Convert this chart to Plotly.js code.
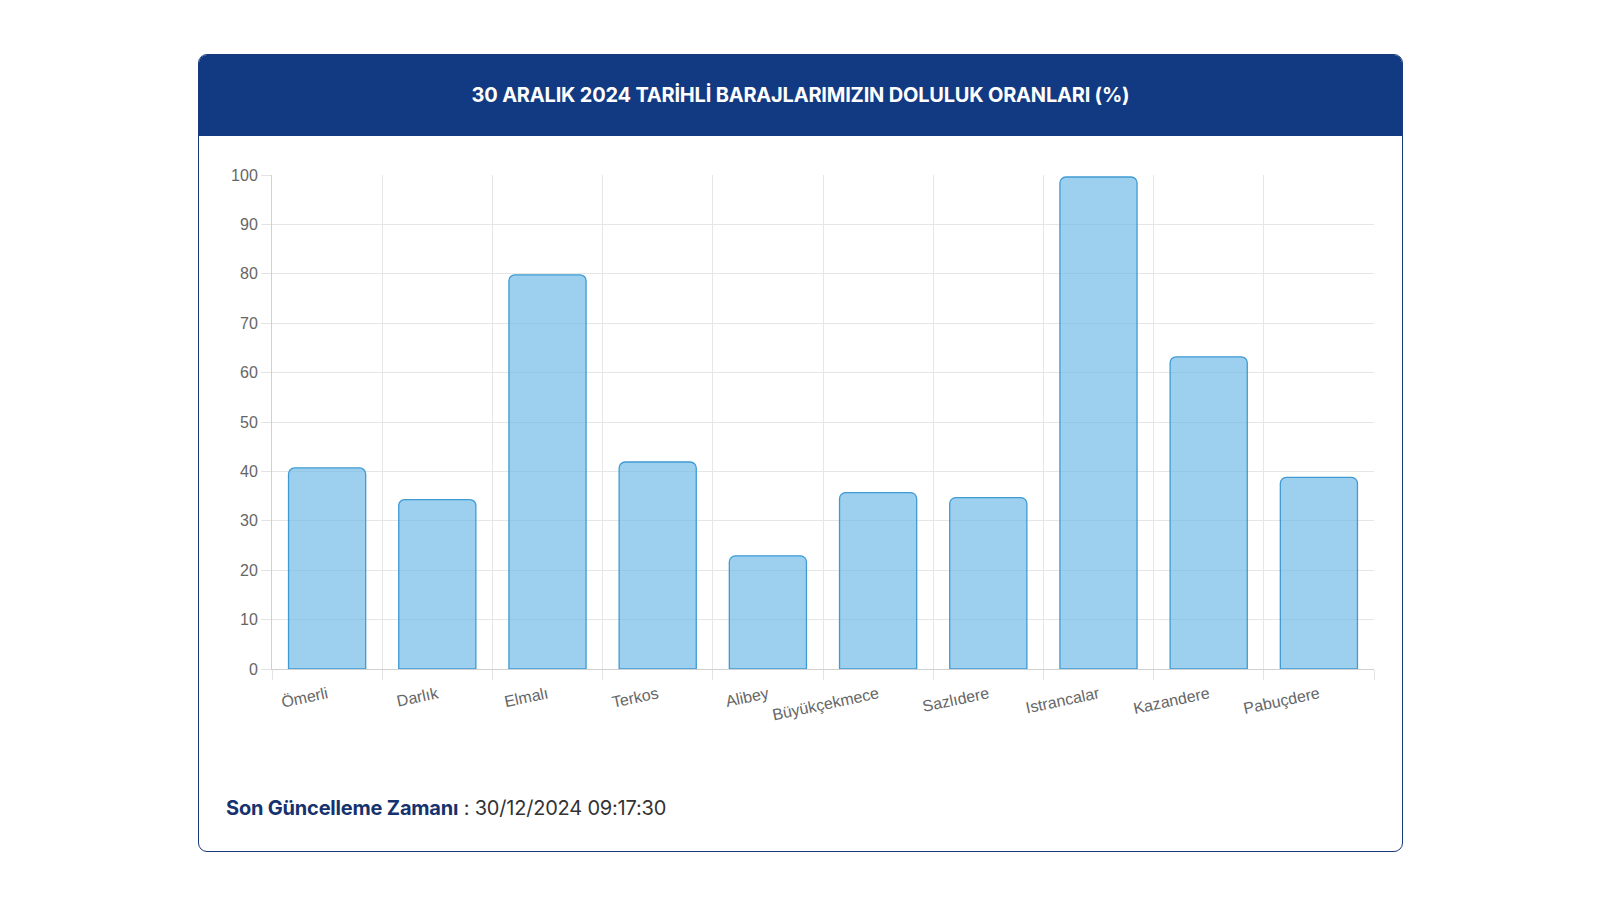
<!DOCTYPE html>
<html>
<head>
<meta charset="utf-8">
<script src="https://cdn.plot.ly/plotly-3.0.1.min.js"></script>
<style>
  html, body { margin: 0; padding: 0; width: 1600px; height: 900px; background: #ffffff; overflow: hidden; }
  #card { position: absolute; left: 198px; top: 54px; width: 1205px; height: 798px; border: 1.5px solid #16397a; border-radius: 9px; background: #fff; box-sizing: border-box; overflow: hidden; }
  #header { position: absolute; left: 0; top: 0; width: 100%; height: 81px; background: #123a82; color: #fff; font-family: Inter, "Open Sans", sans-serif; font-weight: 700; font-size: 20px; text-align: center; line-height: 81px; letter-spacing: -0.2px; }
  #footer { position: absolute; left: 27px; top: 741px; font-family: Inter, "Open Sans", sans-serif; font-size: 20px; color: #333; letter-spacing: -0.2px; }
  #footer b { color: #16326e; font-weight: 700; }
  #chart { position: absolute; left: 0; top: 0; width: 1600px; height: 900px; }
</style>
</head>
<body>
<div id="card">
  <div id="header">30 ARALIK 2024 TARİHLİ BARAJLARIMIZIN DOLULUK ORANLARI (%)</div>
  <div id="footer"><b>Son Güncelleme Zamanı</b> : 30/12/2024 09:17:30</div>
</div>
<div id="chart"></div>
<script>
const dams = ["Ömerli", "Darlık", "Elmalı", "Terkos", "Alibey", "Büyükçekmece", "Sazlıdere", "Istrancalar", "Kazandere", "Pabuçdere"];
const fillRates = [40.7, 34.3, 79.8, 41.9, 22.9, 35.7, 34.7, 99.6, 63.2, 38.8];
const yTicks = [0, 10, 20, 30, 40, 50, 60, 70, 80, 90, 100];

const trace = {
  type: "bar",
  x: dams,
  y: fillRates,
  marker: {
    color: "rgba(110,185,230,0.68)",
    line: { color: "#3f9bd3", width: 1.3 },
    cornerradius: 6
  },
  hoverinfo: "x+y"
};

const layout = {
  width: 1600,
  height: 900,
  paper_bgcolor: "rgba(0,0,0,0)",
  plot_bgcolor: "rgba(0,0,0,0)",
  margin: { l: 272, r: 226, t: 175, b: 231 },
  showlegend: false,
  bargap: 0.3,
  xaxis: {
    type: "category",
    tickson: "boundaries",
    ticks: "outside",
    ticklen: 10,
    tickcolor: "#e3e3e3",
    showgrid: true,
    gridcolor: "#e6e6e6",
    gridwidth: 1,
    showline: true,
    linecolor: "#d0d0d0",
    linewidth: 1,
    tickangle: -12,
    ticklabelstandoff: 9,
    tickfont: { family: "Liberation Sans, Arial, sans-serif", size: 16, color: "#666" },
    fixedrange: true
  },
  yaxis: {
    range: [0, 100],
    tickvals: yTicks,
    ticktext: yTicks.map(String),
    ticks: "outside",
    ticklen: 10,
    tickcolor: "#e3e3e3",
    showgrid: true,
    gridcolor: "#e6e6e6",
    gridwidth: 1,
    showline: true,
    linecolor: "#d0d0d0",
    linewidth: 1,
    zeroline: false,
    tickfont: { family: "Liberation Sans, Arial, sans-serif", size: 16, color: "#666" },
    fixedrange: true
  }
};

Plotly.newPlot("chart", [trace], layout, { displayModeBar: false, staticPlot: true });
</script>
</body>
</html>
